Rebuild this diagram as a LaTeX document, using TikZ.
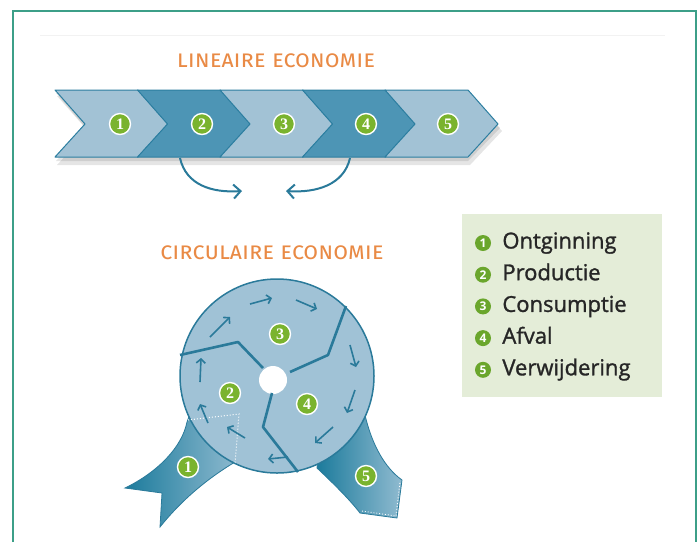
\documentclass[tikz,border=0pt]{standalone}
\usepackage{fontspec}
\setmainfont{Open Sans}
\newfontfamily\titlefont[Letters={SmallCaps,UppercaseSmallCaps}]{Fira Sans}
\newfontfamily\itemfont[FakeBold=1.3]{Open Sans}
\newfontfamily\numfont{Liberation Serif}
\usetikzlibrary{arrows.meta,positioning}

\definecolor{framegreen}{HTML}{3C9F88}
\definecolor{chevlight}{HTML}{A2C2D5}
\definecolor{chevdark}{HTML}{4D95B5}
\definecolor{chevline}{HTML}{2C7EA0}
\definecolor{badgegreen}{HTML}{7AB32E}
\definecolor{legendgreen}{HTML}{6AA62C}
\definecolor{legendbg}{HTML}{E4EDD8}
\definecolor{circfill}{HTML}{A0C2D6}
\definecolor{ringline}{HTML}{2A7A9A}
\definecolor{ribdark}{HTML}{1C7B9C}
\definecolor{riblight}{HTML}{90BBD0}
\definecolor{titleorange}{HTML}{E98A45}

\begin{document}
\begin{tikzpicture}
  [x=1pt,y=-1pt,every node/.style={inner sep=0pt},
   badge/.style={circle,fill=badgegreen,draw=white,line width=1.4pt,minimum size=21pt,
     text=white,font=\numfont\bfseries\fontsize{16}{16}\selectfont},
   dot/.style={circle,fill=legendgreen,minimum size=16pt,text=white,
     font=\bfseries\fontsize{12}{12}\selectfont},
   heading/.style={text=titleorange,font=\titlefont\fontsize{24}{24}\selectfont},
   item/.style={text=black!85,font=\itemfont\fontsize{22}{22}\selectfont,
     text height=16pt,text depth=5pt,anchor=west},
   bigarrow/.style={draw=ringline,line width=2pt,-{Straight Barb[length=7pt,width=14pt]}},
   flow/.style={draw=ringline,line width=1.6pt,-{Straight Barb[length=4pt,width=9pt]}},
   divider/.style={draw=ringline,line width=2.6pt,line join=round}]
  \useasboundingbox (0,0) rectangle (700,542);

  % frame
  \draw[framegreen,line width=1.8pt] (13,542) -- (13,11) -- (696,11) -- (696,542);
  \draw[black!5] (40,35) -- (665,35);

  % linear band
  \node[heading] (lin) at (276,61) {Lineaire economie};
  \fill[black,opacity=.10] (57,96) -- (470,96) -- (502,131) -- (470,165) -- (57,165) -- (88,131) -- cycle;
  \fill[black,opacity=.10] (56,93) -- (468,93) -- (500,128) -- (468,161) -- (56,161) -- (86,128) -- cycle;
  \foreach \i/\c in {0/chevlight,1/chevdark,2/chevlight,3/chevdark,4/chevlight}{
    \pgfmathsetmacro\x{55+82.5*\i}
    \filldraw[fill=\c,draw=chevline,line width=1pt,line join=round]
      (\x,90) -- ++(83,0) -- ++(30,34) -- ++(-30,33) -- ++(-83,0) -- ++(30,-33) -- cycle;
  }
  \foreach \i in {1,...,5}
    \node[badge] (c\i) at ({120+82*(\i-1)},124) {\i};

  \coordinate (s2) at (180,158);
  \coordinate (e2) at (242,191);
  \coordinate (s4) at (350,158);
  \coordinate (e4) at (286,191);
  \draw[bigarrow] (s2) .. controls (186,185) and (212,193) .. (e2);
  \draw[bigarrow] (s4) .. controls (344,185) and (316,193) .. (e4);

  % circular economy
  \node[heading] (circ) at (272,253) {Circulaire economie};

  \shadedraw[left color=ribdark,right color=riblight,draw=ringline,line width=.8pt]
    (195,400) -- (187,422) .. controls (182,447) and (158,472) .. (125,488)
    -- (162,493) -- (160,527) .. controls (180,502) and (205,480) .. (235,462) -- (240,440) -- cycle;
  \shadedraw[left color=ribdark,right color=riblight,draw=ringline,line width=.8pt]
    (320,440) -- (317,468) .. controls (335,485) and (350,500) .. (360,513)
    -- (397,518) -- (402,480) .. controls (385,468) and (372,445) .. (365,415) -- (340,420) -- cycle;
  \draw[white,dotted,line width=.9pt] (362,511) -- (396,516) -- (400,482);

  \node[circle,fill=circfill,draw=ringline,line width=1.5pt,minimum size=194pt] (ring) at (277,376) {};
  \node[circle,fill=white,minimum size=28pt] (hole) at (273,380) {};

  \draw[divider] (180,355) -- (238,342) -- (263,368);
  \draw[divider] (346,306) -- (328,355) -- (290,372);
  \draw[divider] (272,393) -- (263,427) -- (298,472);
  \draw[white,dotted,line width=1pt] (188,420) -- (239,414) -- (235,463);

  \foreach \xa/\ya/\xb/\yb in {200/382/201/358, 210/337/230/317, 250/304/272/298,
    296/300/317/309, 350/345/356/367, 355/390/347/413, 333/427/315/443,
    288/457/268/459, 245/438/227/427, 208/423/200/404}
    \draw[flow] (\xa,\ya) -- (\xb,\yb);

  \node[badge] (r3) at (280,334) {3};
  \node[badge] (r2) at (230,393) {2};
  \node[badge] (r4) at (307,404) {4};
  \node[badge] (r1) at (188,467) {1};
  \node[badge] (r5) at (366,476) {5};

  % legend
  \node[fill=legendbg,minimum width=200pt,minimum height=183pt] (legend) at (562,305.5) {};
  \foreach \i/\t in {1/Ontginning,2/Productie,3/Consumptie,4/Afval,5/Verwijdering}{
    \node[dot] (d\i) at (483,{243+31.7*(\i-1)}) {\i};
    \node[item,right=11pt of d\i] (l\i) {\t};
  }
\end{tikzpicture}
\end{document}
